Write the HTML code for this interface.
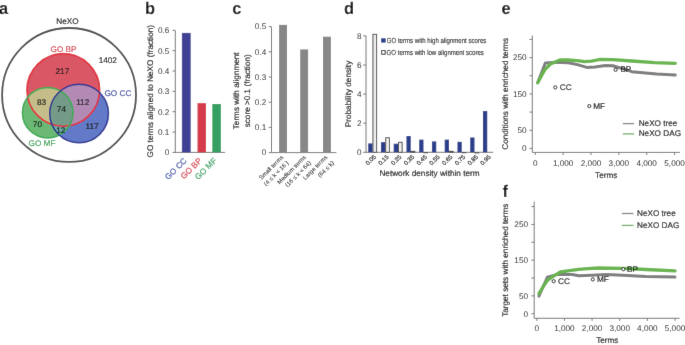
<!DOCTYPE html>
<html><head><meta charset="utf-8"><style>
html,body{margin:0;padding:0;background:#fff;width:685px;height:345px;overflow:hidden;}
svg{display:block;font-family:"Liberation Sans", sans-serif;text-rendering:geometricPrecision;}
#w{width:685px;height:345px;will-change:transform;}
</style></head><body><div id="w">
<svg width="685" height="345" viewBox="0 0 685 345">
<defs><filter id="bl" x="0" y="0" width="685" height="345" filterUnits="userSpaceOnUse"><feConvolveMatrix order="3" kernelMatrix="0.00524 0.06192 0.00524 0.06192 0.73137 0.06192 0.00524 0.06192 0.00524" edgeMode="duplicate" preserveAlpha="true"/></filter></defs>
<g filter="url(#bl)">
<rect width="685" height="345" fill="#fff"/>
<text x="0.00" y="0.00" font-size="16" text-anchor="start" fill="#111" font-weight="bold" transform="translate(-1.0,14.200000000000001) scale(1.03,1.06)">a</text>
<text x="0.00" y="0.00" font-size="16" text-anchor="start" fill="#111" font-weight="bold" transform="translate(145.1,14.200000000000001) scale(1.03,1.06)">b</text>
<text x="0.00" y="0.00" font-size="16" text-anchor="start" fill="#111" font-weight="bold" transform="translate(232.3,14.200000000000001) scale(1.03,1.06)">c</text>
<text x="0.00" y="0.00" font-size="16" text-anchor="start" fill="#111" font-weight="bold" transform="translate(343.9,14.200000000000001) scale(1.03,1.06)">d</text>
<text x="0.00" y="0.00" font-size="16" text-anchor="start" fill="#111" font-weight="bold" transform="translate(501.6,14.200000000000001) scale(1.03,1.06)">e</text>
<text x="0.00" y="0.00" font-size="16" text-anchor="start" fill="#111" font-weight="bold" transform="translate(502.4,197.0) scale(1.03,1.06)">f</text>
<defs><clipPath id="cR"><circle cx="63.3" cy="89.95" r="36.3"/></clipPath><clipPath id="cG"><circle cx="47.7" cy="112.7" r="25.3"/></clipPath><clipPath id="cRG" clip-path="url(#cR)"><circle cx="47.7" cy="112.7" r="25.3"/></clipPath></defs>
<circle cx="69.05" cy="94.95" r="66.95" fill="none" stroke="#4a4a4a" stroke-width="1.8"/>
<circle cx="63.3" cy="89.95" r="36.3" fill="rgb(218,88,102)" />
<circle cx="47.7" cy="112.7" r="25.3" fill="rgb(108,185,118)" />
<circle cx="79.1" cy="113.5" r="29.35" fill="rgb(100,122,200)" />
<circle cx="47.7" cy="112.7" r="25.3" fill="rgb(196,189,138)" clip-path="url(#cR)"/>
<circle cx="79.1" cy="113.5" r="29.35" fill="rgb(178,138,180)" clip-path="url(#cR)"/>
<circle cx="79.1" cy="113.5" r="29.35" fill="rgb(108,172,168)" clip-path="url(#cG)"/>
<circle cx="79.1" cy="113.5" r="29.35" fill="rgb(115,155,135)" clip-path="url(#cRG)"/>
<circle cx="63.3" cy="89.95" r="36.3" fill="none" stroke="rgb(225,50,62)" stroke-width="1.7"/>
<circle cx="47.7" cy="112.7" r="25.3" fill="none" stroke="rgb(58,170,82)" stroke-width="1.5"/>
<circle cx="79.1" cy="113.5" r="29.35" fill="none" stroke="rgb(44,52,145)" stroke-width="1.5"/>
<text x="67.50" y="23.80" font-size="8.2" text-anchor="middle" fill="#181818" font-weight="normal" stroke="#181818" stroke-width="0.18" >NeXO</text>
<text x="63.50" y="51.50" font-size="8.2" text-anchor="middle" fill="rgb(214,60,76)" font-weight="normal" stroke="rgb(214,60,76)" stroke-width="0.18" >GO BP</text>
<text x="107.80" y="62.80" font-size="8.2" text-anchor="middle" fill="#181818" font-weight="normal" stroke="#181818" stroke-width="0.18" >1402</text>
<text x="62.40" y="73.60" font-size="8.2" text-anchor="middle" fill="#181818" font-weight="normal" stroke="#181818" stroke-width="0.18" >217</text>
<text x="41.60" y="105.20" font-size="8.2" text-anchor="middle" fill="#181818" font-weight="normal" stroke="#181818" stroke-width="0.18" >83</text>
<text x="61.40" y="111.80" font-size="8.2" text-anchor="middle" fill="#181818" font-weight="normal" stroke="#181818" stroke-width="0.18" >74</text>
<text x="82.70" y="104.50" font-size="8.2" text-anchor="middle" fill="#181818" font-weight="normal" stroke="#181818" stroke-width="0.18" >112</text>
<text x="37.40" y="127.40" font-size="8.2" text-anchor="middle" fill="#181818" font-weight="normal" stroke="#181818" stroke-width="0.18" >70</text>
<text x="60.70" y="132.50" font-size="8.2" text-anchor="middle" fill="#181818" font-weight="normal" stroke="#181818" stroke-width="0.18" >12</text>
<text x="92.00" y="128.60" font-size="8.2" text-anchor="middle" fill="#181818" font-weight="normal" stroke="#181818" stroke-width="0.18" >117</text>
<text x="42.00" y="145.60" font-size="8.2" text-anchor="middle" fill="rgb(60,165,90)" font-weight="normal" stroke="rgb(60,165,90)" stroke-width="0.18" >GO MF</text>
<text x="117.90" y="96.40" font-size="8.2" text-anchor="middle" fill="rgb(60,75,160)" font-weight="normal" stroke="rgb(60,75,160)" stroke-width="0.18" >GO CC</text>
<line x1="175.30" y1="30.40" x2="175.30" y2="152.90" stroke="#767676" stroke-width="1" />
<line x1="174.80" y1="152.40" x2="225.20" y2="152.40" stroke="#767676" stroke-width="1" />
<line x1="172.50" y1="152.40" x2="175.30" y2="152.40" stroke="#767676" stroke-width="1" />
<text x="169.40" y="155.25" font-size="8.2" text-anchor="end" fill="#262626" font-weight="normal" >0</text>
<line x1="172.50" y1="132.05" x2="175.30" y2="132.05" stroke="#767676" stroke-width="1" />
<text x="169.40" y="134.90" font-size="8.2" text-anchor="end" fill="#262626" font-weight="normal" >0.1</text>
<line x1="172.50" y1="111.70" x2="175.30" y2="111.70" stroke="#767676" stroke-width="1" />
<text x="169.40" y="114.55" font-size="8.2" text-anchor="end" fill="#262626" font-weight="normal" >0.2</text>
<line x1="172.50" y1="91.35" x2="175.30" y2="91.35" stroke="#767676" stroke-width="1" />
<text x="169.40" y="94.20" font-size="8.2" text-anchor="end" fill="#262626" font-weight="normal" >0.3</text>
<line x1="172.50" y1="71.00" x2="175.30" y2="71.00" stroke="#767676" stroke-width="1" />
<text x="169.40" y="73.85" font-size="8.2" text-anchor="end" fill="#262626" font-weight="normal" >0.4</text>
<line x1="172.50" y1="50.65" x2="175.30" y2="50.65" stroke="#767676" stroke-width="1" />
<text x="169.40" y="53.50" font-size="8.2" text-anchor="end" fill="#262626" font-weight="normal" >0.5</text>
<line x1="172.50" y1="30.30" x2="175.30" y2="30.30" stroke="#767676" stroke-width="1" />
<text x="169.40" y="33.15" font-size="8.2" text-anchor="end" fill="#262626" font-weight="normal" >0.6</text>
<rect x="181.90" y="32.90" width="8.80" height="119.50" fill="rgb(64,64,150)" />
<rect x="197.50" y="103.10" width="8.50" height="49.30" fill="rgb(214,58,74)" />
<rect x="212.30" y="104.00" width="8.60" height="48.40" fill="rgb(52,160,98)" />
<text x="0.00" y="0.00" font-size="8.2" text-anchor="middle" fill="#181818" font-weight="normal" stroke="#181818" stroke-width="0.18" transform="translate(153.2,91.2) rotate(-90)">GO terms aligned to NeXO (fraction)</text>
<text x="0.00" y="0.00" font-size="8.2" text-anchor="end" fill="rgb(66,82,170)" font-weight="normal" stroke="rgb(66,82,170)" stroke-width="0.18" transform="translate(187.30,161.20) rotate(-45)">GO CC</text>
<text x="0.00" y="0.00" font-size="8.2" text-anchor="end" fill="rgb(214,60,76)" font-weight="normal" stroke="rgb(214,60,76)" stroke-width="0.18" transform="translate(202.30,161.20) rotate(-45)">GO BP</text>
<text x="0.00" y="0.00" font-size="8.2" text-anchor="end" fill="rgb(52,160,98)" font-weight="normal" stroke="rgb(52,160,98)" stroke-width="0.18" transform="translate(217.20,161.20) rotate(-45)">GO MF</text>
<line x1="271.50" y1="26.60" x2="271.50" y2="152.60" stroke="#767676" stroke-width="1" />
<line x1="271.50" y1="152.60" x2="336.40" y2="152.60" stroke="#767676" stroke-width="1" />
<line x1="268.70" y1="152.60" x2="271.50" y2="152.60" stroke="#767676" stroke-width="1" />
<text x="266.20" y="155.45" font-size="8.2" text-anchor="end" fill="#262626" font-weight="normal" >0</text>
<line x1="268.70" y1="127.40" x2="271.50" y2="127.40" stroke="#767676" stroke-width="1" />
<text x="266.20" y="130.25" font-size="8.2" text-anchor="end" fill="#262626" font-weight="normal" >0.1</text>
<line x1="268.70" y1="102.20" x2="271.50" y2="102.20" stroke="#767676" stroke-width="1" />
<text x="266.20" y="105.05" font-size="8.2" text-anchor="end" fill="#262626" font-weight="normal" >0.2</text>
<line x1="268.70" y1="77.00" x2="271.50" y2="77.00" stroke="#767676" stroke-width="1" />
<text x="266.20" y="79.85" font-size="8.2" text-anchor="end" fill="#262626" font-weight="normal" >0.3</text>
<line x1="268.70" y1="51.80" x2="271.50" y2="51.80" stroke="#767676" stroke-width="1" />
<text x="266.20" y="54.65" font-size="8.2" text-anchor="end" fill="#262626" font-weight="normal" >0.4</text>
<line x1="268.70" y1="26.60" x2="271.50" y2="26.60" stroke="#767676" stroke-width="1" />
<text x="266.20" y="29.45" font-size="8.2" text-anchor="end" fill="#262626" font-weight="normal" >0.5</text>
<rect x="279.10" y="24.90" width="7.90" height="127.70" fill="rgb(135,135,135)" />
<rect x="300.20" y="49.40" width="7.90" height="103.20" fill="rgb(135,135,135)" />
<rect x="323.00" y="36.70" width="7.90" height="115.90" fill="rgb(135,135,135)" />
<text x="0.00" y="0.00" font-size="8.2" text-anchor="middle" fill="#181818" font-weight="normal" stroke="#181818" stroke-width="0.18" transform="translate(239.3,90.8) rotate(-90)">Terms with alignment</text>
<text x="0.00" y="0.00" font-size="8.2" text-anchor="middle" fill="#181818" font-weight="normal" stroke="#181818" stroke-width="0.18" transform="translate(249.6,90.8) rotate(-90)">score &gt;0.1 (fraction)</text>
<text x="0.00" y="0.00" font-size="6" text-anchor="end" fill="#262626" font-weight="normal" stroke="#262626" stroke-width="0.05" transform="translate(283.80,157.70) rotate(-45)">Small terms</text>
<text x="0.00" y="0.00" font-size="6" text-anchor="end" fill="#262626" font-weight="normal" stroke="#262626" stroke-width="0.05" transform="translate(289.00,163.40) rotate(-45)">(4 ≤ k &lt; 16 )</text>
<text x="0.00" y="0.00" font-size="6" text-anchor="end" fill="#262626" font-weight="normal" stroke="#262626" stroke-width="0.05" transform="translate(306.50,157.70) rotate(-45)">Medium terms</text>
<text x="0.00" y="0.00" font-size="6" text-anchor="end" fill="#262626" font-weight="normal" stroke="#262626" stroke-width="0.05" transform="translate(311.50,163.40) rotate(-45)">(16 ≤ k &lt; 64)</text>
<text x="0.00" y="0.00" font-size="6" text-anchor="end" fill="#262626" font-weight="normal" stroke="#262626" stroke-width="0.05" transform="translate(327.80,157.70) rotate(-45)">Large terms</text>
<text x="0.00" y="0.00" font-size="6" text-anchor="end" fill="#262626" font-weight="normal" stroke="#262626" stroke-width="0.05" transform="translate(334.50,163.40) rotate(-45)">(64 ≤ k)</text>
<line x1="366.00" y1="35.80" x2="366.00" y2="152.30" stroke="#767676" stroke-width="1" />
<line x1="366.00" y1="152.30" x2="493.30" y2="152.30" stroke="#767676" stroke-width="1" />
<line x1="363.20" y1="152.30" x2="366.00" y2="152.30" stroke="#767676" stroke-width="1" />
<text x="361.60" y="155.15" font-size="8.2" text-anchor="end" fill="#262626" font-weight="normal" >0</text>
<line x1="363.20" y1="123.20" x2="366.00" y2="123.20" stroke="#767676" stroke-width="1" />
<text x="361.60" y="126.05" font-size="8.2" text-anchor="end" fill="#262626" font-weight="normal" >2</text>
<line x1="363.20" y1="94.10" x2="366.00" y2="94.10" stroke="#767676" stroke-width="1" />
<text x="361.60" y="96.95" font-size="8.2" text-anchor="end" fill="#262626" font-weight="normal" >4</text>
<line x1="363.20" y1="65.00" x2="366.00" y2="65.00" stroke="#767676" stroke-width="1" />
<text x="361.60" y="67.85" font-size="8.2" text-anchor="end" fill="#262626" font-weight="normal" >6</text>
<line x1="363.20" y1="35.90" x2="366.00" y2="35.90" stroke="#767676" stroke-width="1" />
<text x="361.60" y="38.75" font-size="8.2" text-anchor="end" fill="#262626" font-weight="normal" >8</text>
<rect x="368.20" y="143.42" width="4.30" height="8.88" fill="rgb(42,62,138)" />
<rect x="372.95" y="34.31" width="3.70" height="117.99" fill="rgb(238,238,238)" stroke="#383838" stroke-width="0.9"/>
<text x="0.00" y="0.00" font-size="6" text-anchor="end" fill="#181818" font-weight="normal" stroke="#181818" stroke-width="0.18" transform="translate(376.30,157.30) rotate(-45)">0.05</text>
<rect x="380.95" y="142.12" width="4.30" height="10.19" fill="rgb(42,62,138)" />
<rect x="385.70" y="137.76" width="3.70" height="14.54" fill="rgb(238,238,238)" stroke="#383838" stroke-width="0.9"/>
<text x="0.00" y="0.00" font-size="6" text-anchor="end" fill="#181818" font-weight="normal" stroke="#181818" stroke-width="0.18" transform="translate(389.05,157.30) rotate(-45)">0.15</text>
<rect x="393.70" y="143.72" width="4.30" height="8.58" fill="rgb(42,62,138)" />
<rect x="398.45" y="142.27" width="3.70" height="10.03" fill="rgb(238,238,238)" stroke="#383838" stroke-width="0.9"/>
<text x="0.00" y="0.00" font-size="6" text-anchor="end" fill="#181818" font-weight="normal" stroke="#181818" stroke-width="0.18" transform="translate(401.80,157.30) rotate(-45)">0.25</text>
<rect x="406.45" y="136.00" width="4.30" height="16.30" fill="rgb(42,62,138)" />
<rect x="411.20" y="151.29" width="3.70" height="1.01" fill="rgb(238,238,238)" stroke="#383838" stroke-width="0.9"/>
<text x="0.00" y="0.00" font-size="6" text-anchor="end" fill="#181818" font-weight="normal" stroke="#181818" stroke-width="0.18" transform="translate(414.55,157.30) rotate(-45)">0.35</text>
<rect x="419.20" y="139.64" width="4.30" height="12.66" fill="rgb(42,62,138)" />
<rect x="423.95" y="152.46" width="3.70" height="0.30" fill="rgb(238,238,238)" stroke="#383838" stroke-width="0.9"/>
<text x="0.00" y="0.00" font-size="6" text-anchor="end" fill="#181818" font-weight="normal" stroke="#181818" stroke-width="0.18" transform="translate(427.30,157.30) rotate(-45)">0.45</text>
<rect x="431.95" y="141.39" width="4.30" height="10.91" fill="rgb(42,62,138)" />
<text x="0.00" y="0.00" font-size="6" text-anchor="end" fill="#181818" font-weight="normal" stroke="#181818" stroke-width="0.18" transform="translate(440.05,157.30) rotate(-45)">0.55</text>
<rect x="444.70" y="139.64" width="4.30" height="12.66" fill="rgb(42,62,138)" />
<rect x="449.45" y="151.29" width="3.70" height="1.01" fill="rgb(238,238,238)" stroke="#383838" stroke-width="0.9"/>
<text x="0.00" y="0.00" font-size="6" text-anchor="end" fill="#181818" font-weight="normal" stroke="#181818" stroke-width="0.18" transform="translate(452.80,157.30) rotate(-45)">0.65</text>
<rect x="457.45" y="141.82" width="4.30" height="10.48" fill="rgb(42,62,138)" />
<rect x="462.20" y="152.46" width="3.70" height="0.30" fill="rgb(238,238,238)" stroke="#383838" stroke-width="0.9"/>
<text x="0.00" y="0.00" font-size="6" text-anchor="end" fill="#181818" font-weight="normal" stroke="#181818" stroke-width="0.18" transform="translate(465.55,157.30) rotate(-45)">0.75</text>
<rect x="470.20" y="137.46" width="4.30" height="14.84" fill="rgb(42,62,138)" />
<rect x="474.95" y="152.60" width="3.70" height="0.30" fill="rgb(238,238,238)" stroke="#383838" stroke-width="0.9"/>
<text x="0.00" y="0.00" font-size="6" text-anchor="end" fill="#181818" font-weight="normal" stroke="#181818" stroke-width="0.18" transform="translate(478.30,157.30) rotate(-45)">0.85</text>
<rect x="482.95" y="110.98" width="4.30" height="41.32" fill="rgb(42,62,138)" />
<text x="0.00" y="0.00" font-size="6" text-anchor="end" fill="#181818" font-weight="normal" stroke="#181818" stroke-width="0.18" transform="translate(491.05,157.30) rotate(-45)">0.95</text>
<rect x="381.10" y="38.30" width="4.60" height="4.30" fill="rgb(42,62,138)" />
<rect x="381.60" y="50.60" width="3.60" height="3.60" fill="white" stroke="#2a2a2a" stroke-width="0.95"/>
<text x="386.80" y="42.90" font-size="7.3" text-anchor="start" fill="#181818" font-weight="normal" stroke="#181818" stroke-width="0.1" textLength="99.6" lengthAdjust="spacingAndGlyphs">GO terms with high alignment scores</text>
<text x="386.60" y="54.80" font-size="7.3" text-anchor="start" fill="#181818" font-weight="normal" stroke="#181818" stroke-width="0.1" textLength="97.3" lengthAdjust="spacingAndGlyphs">GO terms with low alignment scores</text>
<text x="429.50" y="176.30" font-size="8.2" text-anchor="middle" fill="#181818" font-weight="normal" stroke="#181818" stroke-width="0.18" >Network density within term</text>
<text x="0.00" y="0.00" font-size="8.2" text-anchor="middle" fill="#181818" font-weight="normal" stroke="#181818" stroke-width="0.18" transform="translate(350.6,94.0) rotate(-90)">Probability density</text>
<line x1="532.30" y1="35.50" x2="532.30" y2="152.40" stroke="#767676" stroke-width="1" />
<line x1="532.30" y1="152.40" x2="680.00" y2="152.40" stroke="#767676" stroke-width="1" />
<line x1="529.50" y1="148.40" x2="532.30" y2="148.40" stroke="#767676" stroke-width="1" />
<text x="526.60" y="151.25" font-size="8.2" text-anchor="end" fill="#262626" font-weight="normal" >0</text>
<line x1="529.50" y1="130.24" x2="532.30" y2="130.24" stroke="#767676" stroke-width="1" />
<text x="526.60" y="133.09" font-size="8.2" text-anchor="end" fill="#262626" font-weight="normal" >50</text>
<line x1="529.50" y1="112.08" x2="532.30" y2="112.08" stroke="#767676" stroke-width="1" />
<line x1="529.50" y1="93.92" x2="532.30" y2="93.92" stroke="#767676" stroke-width="1" />
<text x="526.60" y="96.77" font-size="8.2" text-anchor="end" fill="#262626" font-weight="normal" >150</text>
<line x1="529.50" y1="75.76" x2="532.30" y2="75.76" stroke="#767676" stroke-width="1" />
<line x1="529.50" y1="57.60" x2="532.30" y2="57.60" stroke="#767676" stroke-width="1" />
<text x="526.60" y="60.45" font-size="8.2" text-anchor="end" fill="#262626" font-weight="normal" >250</text>
<line x1="529.50" y1="39.44" x2="532.30" y2="39.44" stroke="#767676" stroke-width="1" />
<line x1="535.30" y1="152.40" x2="535.30" y2="155.00" stroke="#767676" stroke-width="1" />
<text x="535.30" y="166.30" font-size="8.2" text-anchor="middle" fill="#262626" font-weight="normal" >0</text>
<line x1="563.15" y1="152.40" x2="563.15" y2="155.00" stroke="#767676" stroke-width="1" />
<text x="563.15" y="166.30" font-size="8.2" text-anchor="middle" fill="#262626" font-weight="normal" >1,000</text>
<line x1="591.00" y1="152.40" x2="591.00" y2="155.00" stroke="#767676" stroke-width="1" />
<text x="591.00" y="166.30" font-size="8.2" text-anchor="middle" fill="#262626" font-weight="normal" >2,000</text>
<line x1="618.85" y1="152.40" x2="618.85" y2="155.00" stroke="#767676" stroke-width="1" />
<text x="618.85" y="166.30" font-size="8.2" text-anchor="middle" fill="#262626" font-weight="normal" >3,000</text>
<line x1="646.70" y1="152.40" x2="646.70" y2="155.00" stroke="#767676" stroke-width="1" />
<text x="646.70" y="166.30" font-size="8.2" text-anchor="middle" fill="#262626" font-weight="normal" >4,000</text>
<line x1="674.55" y1="152.40" x2="674.55" y2="155.00" stroke="#767676" stroke-width="1" />
<text x="674.55" y="166.30" font-size="8.2" text-anchor="middle" fill="#262626" font-weight="normal" >5,000</text>
<text x="606.20" y="177.90" font-size="8.2" text-anchor="middle" fill="#181818" font-weight="normal" stroke="#181818" stroke-width="0.18" >Terms</text>
<text x="0.00" y="0.00" font-size="8.2" text-anchor="middle" fill="#181818" font-weight="normal" stroke="#181818" stroke-width="0.18" transform="translate(508.0,93.8) rotate(-90)">Conditions with enriched terms</text>
<polyline points="537.7,82.7 545.3,63.0 556.4,62.3 568.0,62.8 577.4,64.6 586.7,67.4 594.9,66.9 605.4,65.4 613.0,65.8 616.0,66.7 625.0,69.4 631.8,71.7 643.0,72.8 656.7,74.0 675.3,75.1" fill="none" stroke="rgb(125,125,128)" stroke-width="3.0" stroke-linejoin="round" stroke-linecap="round"/>
<polyline points="537.7,82.7 544.7,69.9 550.5,64.0 559.9,60.0 568.0,60.0 577.4,60.7 584.4,61.6 591.4,61.1 599.6,59.5 613.0,59.6 631.8,61.0 654.5,62.6 675.3,63.3" fill="none" stroke="rgb(104,180,78)" stroke-width="3.3" stroke-linejoin="round" stroke-linecap="round"/>
<circle cx="555.3" cy="87.4" r="1.6" fill="white" stroke="#222" stroke-width="1.0"/>
<text x="559.80" y="90.30" font-size="8.2" text-anchor="start" fill="#181818" font-weight="normal" stroke="#181818" stroke-width="0.18" >CC</text>
<circle cx="615.6" cy="69.8" r="1.6" fill="white" stroke="#222" stroke-width="1.0"/>
<text x="620.40" y="71.80" font-size="8.2" text-anchor="start" fill="#181818" font-weight="normal" stroke="#181818" stroke-width="0.18" >BP</text>
<circle cx="589.3" cy="106.1" r="1.6" fill="white" stroke="#222" stroke-width="1.0"/>
<text x="593.30" y="109.00" font-size="8.2" text-anchor="start" fill="#181818" font-weight="normal" stroke="#181818" stroke-width="0.18" >MF</text>
<line x1="622.80" y1="123.60" x2="634.10" y2="123.60" stroke="rgb(130,130,130)" stroke-width="1.3" />
<line x1="622.80" y1="133.90" x2="634.10" y2="133.90" stroke="rgb(110,175,100)" stroke-width="1.3" />
<text x="638.70" y="125.90" font-size="8.2" text-anchor="start" fill="#181818" font-weight="normal" stroke="#181818" stroke-width="0.18" >NeXO tree</text>
<text x="638.70" y="136.20" font-size="8.2" text-anchor="start" fill="#181818" font-weight="normal" stroke="#181818" stroke-width="0.18" >NeXO DAG</text>
<line x1="534.20" y1="201.60" x2="534.20" y2="318.30" stroke="#767676" stroke-width="1" />
<line x1="534.20" y1="318.30" x2="679.60" y2="318.30" stroke="#767676" stroke-width="1" />
<line x1="531.40" y1="313.70" x2="534.20" y2="313.70" stroke="#767676" stroke-width="1" />
<text x="528.00" y="316.55" font-size="8.2" text-anchor="end" fill="#262626" font-weight="normal" >0</text>
<line x1="531.40" y1="295.85" x2="534.20" y2="295.85" stroke="#767676" stroke-width="1" />
<text x="528.00" y="298.70" font-size="8.2" text-anchor="end" fill="#262626" font-weight="normal" >50</text>
<line x1="531.40" y1="278.00" x2="534.20" y2="278.00" stroke="#767676" stroke-width="1" />
<line x1="531.40" y1="260.15" x2="534.20" y2="260.15" stroke="#767676" stroke-width="1" />
<text x="528.00" y="263.00" font-size="8.2" text-anchor="end" fill="#262626" font-weight="normal" >150</text>
<line x1="531.40" y1="242.30" x2="534.20" y2="242.30" stroke="#767676" stroke-width="1" />
<line x1="531.40" y1="224.45" x2="534.20" y2="224.45" stroke="#767676" stroke-width="1" />
<text x="528.00" y="227.30" font-size="8.2" text-anchor="end" fill="#262626" font-weight="normal" >250</text>
<line x1="531.40" y1="206.60" x2="534.20" y2="206.60" stroke="#767676" stroke-width="1" />
<line x1="536.80" y1="318.30" x2="536.80" y2="320.90" stroke="#767676" stroke-width="1" />
<text x="536.80" y="331.40" font-size="8.2" text-anchor="middle" fill="#262626" font-weight="normal" >0</text>
<line x1="564.44" y1="318.30" x2="564.44" y2="320.90" stroke="#767676" stroke-width="1" />
<text x="564.44" y="331.40" font-size="8.2" text-anchor="middle" fill="#262626" font-weight="normal" >1,000</text>
<line x1="592.08" y1="318.30" x2="592.08" y2="320.90" stroke="#767676" stroke-width="1" />
<text x="592.08" y="331.40" font-size="8.2" text-anchor="middle" fill="#262626" font-weight="normal" >2,000</text>
<line x1="619.72" y1="318.30" x2="619.72" y2="320.90" stroke="#767676" stroke-width="1" />
<text x="619.72" y="331.40" font-size="8.2" text-anchor="middle" fill="#262626" font-weight="normal" >3,000</text>
<line x1="647.36" y1="318.30" x2="647.36" y2="320.90" stroke="#767676" stroke-width="1" />
<text x="647.36" y="331.40" font-size="8.2" text-anchor="middle" fill="#262626" font-weight="normal" >4,000</text>
<line x1="675.00" y1="318.30" x2="675.00" y2="320.90" stroke="#767676" stroke-width="1" />
<text x="675.00" y="331.40" font-size="8.2" text-anchor="middle" fill="#262626" font-weight="normal" >5,000</text>
<text x="607.30" y="343.40" font-size="8.2" text-anchor="middle" fill="#181818" font-weight="normal" stroke="#181818" stroke-width="0.18" >Terms</text>
<text x="0.00" y="0.00" font-size="8.2" text-anchor="middle" fill="#181818" font-weight="normal" stroke="#181818" stroke-width="0.18" transform="translate(508.4,260.2) rotate(-90)">Target sets with enriched terms</text>
<polyline points="538.9,296.1 547.4,277.2 556.5,274.6 572.2,274.6 578.7,275.7 591.7,275.2 606.6,274.5 622.8,275.3 646.0,276.4 675.0,277.1" fill="none" stroke="rgb(125,125,128)" stroke-width="3.0" stroke-linejoin="round" stroke-linecap="round"/>
<polyline points="538.9,293.5 543.4,286.3 547.4,280.4 553.9,275.9 560.4,272.0 569.5,270.7 578.7,269.4 587.8,268.7 598.3,268.0 622.8,268.3 646.0,269.5 675.0,270.9" fill="none" stroke="rgb(104,180,78)" stroke-width="3.3" stroke-linejoin="round" stroke-linecap="round"/>
<circle cx="553.7" cy="281.2" r="1.6" fill="white" stroke="#222" stroke-width="1.0"/>
<text x="558.00" y="283.50" font-size="8.2" text-anchor="start" fill="#181818" font-weight="normal" stroke="#181818" stroke-width="0.18" >CC</text>
<circle cx="592.8" cy="279.4" r="1.6" fill="white" stroke="#222" stroke-width="1.0"/>
<text x="597.00" y="281.90" font-size="8.2" text-anchor="start" fill="#181818" font-weight="normal" stroke="#181818" stroke-width="0.18" >MF</text>
<circle cx="623.3" cy="269.2" r="1.6" fill="white" stroke="#222" stroke-width="1.0"/>
<text x="627.00" y="272.10" font-size="8.2" text-anchor="start" fill="#181818" font-weight="normal" stroke="#181818" stroke-width="0.18" >BP</text>
<line x1="621.80" y1="213.50" x2="633.40" y2="213.50" stroke="rgb(130,130,130)" stroke-width="1.3" />
<line x1="621.80" y1="225.40" x2="633.40" y2="225.40" stroke="rgb(110,175,100)" stroke-width="1.3" />
<text x="637.00" y="215.90" font-size="8.2" text-anchor="start" fill="#181818" font-weight="normal" stroke="#181818" stroke-width="0.18" >NeXO tree</text>
<text x="637.00" y="227.80" font-size="8.2" text-anchor="start" fill="#181818" font-weight="normal" stroke="#181818" stroke-width="0.18" >NeXO DAG</text>
</g>
</svg></div>
</body></html>
